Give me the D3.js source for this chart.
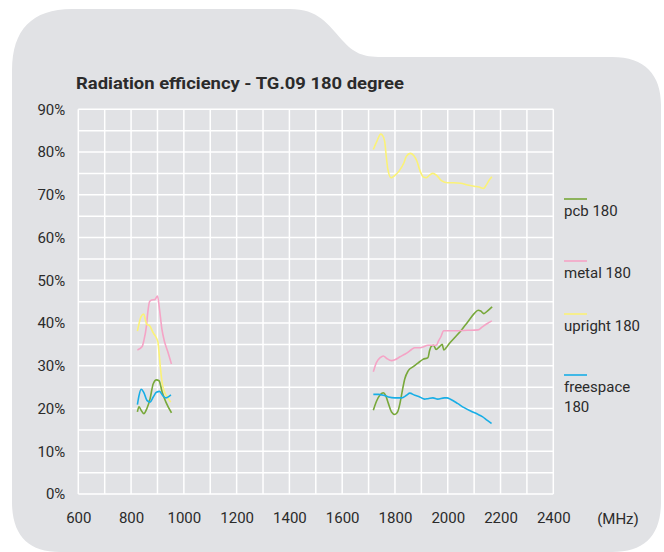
<!DOCTYPE html>
<html lang="en">
<head>
    <meta charset="UTF-8">
    <title>Radiation efficiency - TG.09 180 degree</title>
    <style>
        body { margin: 0; background: #fff; }
        svg text { font-family: Roboto, "Liberation Sans", Arial, sans-serif; fill: #2b2b2b; }
    </style>
</head>
<body>
    <div id="chart"></div>

    <script src="https://d3js.org/d3.v7.min.js"></script>
    <script>
        // [MHz, efficiency %]
        const pcbLow = [[824,19.2],[830,20.4],[838,19.6],[848,18.8],[860,20],[872,22.3],[884,25.8],[896,26.7],[906,26.5],[918,23.8],[932,21.5],[953,19]];
        const metalLow = [[824,33.7],[842,34.5],[848,35.8],[858,39.2],[863,42.3],[870,45],[878,45.4],[890,45.5],[900,46.3],[908,43.1],[917,38.5],[926,35.8],[938,33.5],[953,30.4]];
        const uprightLow = [[824,38.1],[838,41.5],[848,42.1],[854,40.8],[860,39.7],[870,39.4],[884,37.7],[896,36.5],[902,35.5],[906,33],[912,29],[918,25.9],[926,24],[938,22.6],[950,21.5]];
        const freespaceLow = [[824,20.9],[830,23],[838,24.5],[848,23.8],[860,21.9],[872,21.5],[884,22.7],[896,23.8],[908,24],[920,23],[932,22.5],[945,22.9],[951,23.2]];

        const pcbHigh = [[1718,19.6],[1730,21.7],[1744,23.2],[1756,23.7],[1765,23],[1775,21.2],[1787,19.2],[1800,18.6],[1810,19.2],[1819,21.2],[1828,24.2],[1837,26.9],[1850,28.8],[1869,29.8],[1887,30.6],[1906,31.5],[1925,31.9],[1931,33.5],[1937,34.5],[1946,34.8],[1956,33.8],[1969,34.5],[1979,35],[1985,33.7],[1994,34.2],[2006,35.2],[2025,36.5],[2050,38.2],[2075,40.2],[2100,42.2],[2115,43],[2125,42.8],[2137,42.2],[2150,42.8],[2168,43.8]];
        const metalHigh = [[1718,28.6],[1730,30.8],[1744,31.9],[1756,32.3],[1769,31.7],[1787,31.2],[1800,31.4],[1819,32.1],[1837,32.7],[1850,33.2],[1863,33.8],[1875,34.2],[1893,34.2],[1906,34.4],[1925,34.8],[1957,34.8],[1965,35.8],[1975,36.9],[1984,38.2],[2025,38.2],[2075,38.3],[2115,38.4],[2131,39.1],[2150,39.9],[2167,40.5]];
        const uprightHigh = [[1718,80.6],[1730,82.3],[1746,84.2],[1752,84],[1761,82.5],[1767,79],[1773,76],[1785,74],[1797,74.4],[1816,75.6],[1834,77.5],[1843,79],[1858,79.7],[1871,79.2],[1883,77.9],[1895,75.6],[1907,74.2],[1919,74],[1931,74.6],[1944,75],[1957,74.6],[1976,73.3],[2000,72.8],[2023,72.8],[2049,72.7],[2075,72.3],[2100,72],[2119,71.8],[2136,71.5],[2145,72.2],[2158,73.5],[2167,74.2]];
        const freespaceHigh = [[1718,23.3],[1737,23.3],[1756,23.1],[1775,22.7],[1800,22.5],[1825,22.5],[1844,23.1],[1856,23.6],[1875,23.1],[1894,22.7],[1912,22.2],[1925,22.3],[1944,22.5],[1962,22.2],[1987,22.5],[1997,22.5],[2012,22.1],[2037,21.2],[2062,20.2],[2087,19.4],[2112,18.7],[2131,18.1],[2150,17.2],[2166,16.5]];

        const seriesNames = ["pcb 180", "metal 180", "upright 180", "freespace 180"];
        const seriesColors = ["#78a83a", "#f5a4c6", "#fbf277", "#18aee6"];
        const seriesData = [[pcbLow, pcbHigh], [metalLow, metalHigh], [uprightLow, uprightHigh], [freespaceLow, freespaceHigh]];

        const yTicks = [0, 10, 20, 30, 40, 50, 60, 70, 80, 90];
        const xTicks = [600, 800, 1000, 1200, 1400, 1600, 1800, 2000, 2200, 2400];

        const width = 664, height = 552;
        const svg = d3.select("#chart").append("svg")
            .attr("width", width)
            .attr("height", height);

        // grey card with tab
        svg.append("path")
            .attr("fill", "#e1e2e5")
            .attr("d", "M12,70 C12,30 32,9 72,9 L290,9 C318,9 328,24 342,40 C354,53 362,57 382,57 L612,57 C645,57 661,75 661,105 L661,502 C661,535 645,552 612,552 L60,552 C28,552 12,535 12,502 Z");

        const x = d3.scaleLinear().domain([600, 2400]).range([78.3, 553.3]);
        const y = d3.scaleLinear().domain([0, 90]).range([494, 109.3]);

        // gridlines every 5% / 100 MHz
        const grid = svg.append("g").attr("stroke", "#fff").attr("stroke-width", 1.5);
        grid.selectAll("line.h")
            .data(d3.range(0, 91, 5))
            .enter().append("line")
            .attr("x1", x(600)).attr("x2", x(2400))
            .attr("y1", d => y(d)).attr("y2", d => y(d));
        grid.selectAll("line.v")
            .data(d3.range(600, 2401, 100))
            .enter().append("line")
            .attr("y1", y(0)).attr("y2", y(90))
            .attr("x1", d => x(d)).attr("x2", d => x(d));

        // axis labels
        const yAxis = svg.append("g")
            .attr("transform", `translate(${x(600)},0)`)
            .call(d3.axisLeft(y).tickValues(yTicks).tickSize(0).tickPadding(13).tickFormat(d => d + "%"));
        const xAxis = svg.append("g")
            .attr("transform", `translate(0,${y(0)})`)
            .call(d3.axisBottom(x).tickValues(xTicks).tickSize(0).tickPadding(18).tickFormat(d => String(d)));
        [yAxis, xAxis].forEach(a => {
            a.select(".domain").remove();
            a.selectAll("text").style("font-size", "15px").attr("fill", "#2b2b2b");
        });
        xAxis.selectAll("text").attr("dy", "0.71em");

        svg.append("text")
            .attr("x", 618).attr("y", 524)
            .attr("text-anchor", "middle")
            .style("font-size", "15px")
            .text("(MHz)");

        // title
        svg.append("text")
            .attr("x", 76).attr("y", 89)
            .attr("textLength", 328)
            .attr("lengthAdjust", "spacingAndGlyphs")
            .style("font-size", "17px")
            .style("font-weight", "bold")
            .attr("fill", "#111")
            .text("Radiation efficiency - TG.09 180 degree");

        // lines
        const line = d3.line()
            .x(d => x(d[0]))
            .y(d => y(d[1]))
            .curve(d3.curveMonotoneX);

        seriesData.forEach((bands, i) => {
            bands.forEach(band => {
                svg.append("path")
                    .datum(band)
                    .attr("fill", "none")
                    .attr("stroke", seriesColors[i])
                    .attr("stroke-width", 1.6)
                    .attr("d", line);
            });
        });

        // legend
        const legendY = [199, 261, 314, 375];
        const legend = svg.append("g");
        seriesNames.forEach((name, i) => {
            legend.append("line")
                .attr("x1", 564).attr("x2", 587)
                .attr("y1", legendY[i]).attr("y2", legendY[i])
                .attr("stroke", seriesColors[i])
                .attr("stroke-width", 1.6);
            const t = legend.append("text")
                .attr("x", 564).attr("y", legendY[i] + 17)
                .style("font-size", "15px");
            const words = name === "freespace 180" ? ["freespace", "180"] : [name];
            words.forEach((w, k) => {
                t.append("tspan").attr("x", 564).attr("dy", k ? 20 : 0).text(w);
            });
        });
    </script>
</body>
</html>
